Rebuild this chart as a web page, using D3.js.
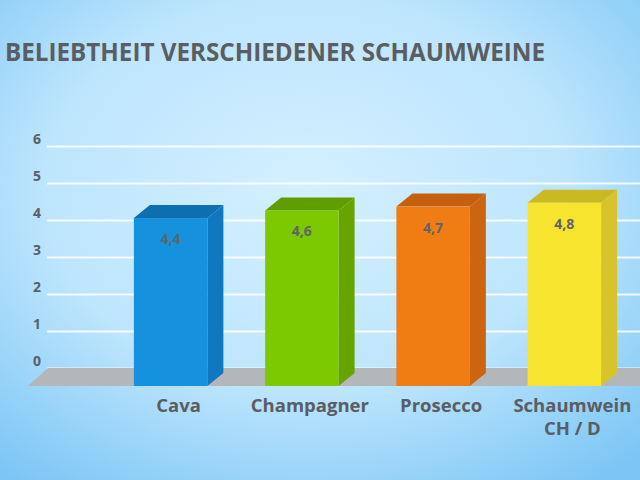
<!DOCTYPE html>
<html>
<head>
<meta charset="utf-8">
<script src="https://cdn.jsdelivr.net/npm/d3@7"></script>
<style>
  body { margin: 0; }
  svg { display: block; }
</style>
</head>
<body>
<div class="grafik"></div>
<script>
var sorten = ['Cava', 'Champagner', 'Prosecco', 'Schaumwein CH / D'];
var werte = [4.4, 4.6, 4.7, 4.8];
var ticks = [0, 1, 2, 3, 4, 5, 6];
var farben = ['#1591de', '#7dc900', '#f07d14', '#f7e42e'];
var seiten = ['#0f78be', '#66a500', '#cd6510', '#d7c42a'];
var deckel = ['#0e6fb0', '#609e00', '#c4600e', '#cbb924'];

var breite = 640, hoehe = 480;
var tiefeX = 16, tiefeY = 13;

var svg = d3.select('.grafik')
  .append('svg')
  .attr('width', breite)
  .attr('height', hoehe);

var defs = svg.append('defs');
var verlauf = defs.append('radialGradient')
  .attr('id', 'hintergrund')
  .attr('cx', '48%').attr('cy', '40%').attr('r', '75%');
verlauf.append('stop').attr('offset', '0%').attr('stop-color', '#d4f0ff');
verlauf.append('stop').attr('offset', '55%').attr('stop-color', '#bde5fd');
verlauf.append('stop').attr('offset', '100%').attr('stop-color', '#7cc6f5');

svg.append('rect')
  .attr('width', breite)
  .attr('height', hoehe)
  .attr('fill', 'url(#hintergrund)');

// Titel
svg.append('text')
  .attr('x', 5)
  .attr('y', 61)
  .attr('font-family', 'Open Sans, sans-serif')
  .attr('font-weight', 700)
  .attr('font-size', 25)
  .attr('textLength', 540)
  .attr('lengthAdjust', 'spacingAndGlyphs')
  .attr('fill', '#5a5d61')
  .text('BELIEBTHEIT VERSCHIEDENER SCHAUMWEINE');

// Skala der Rückwand (Gitter) und Skala der Balken (Vorderkante)
var yGitter = d3.scaleLinear().domain([0, 6]).range([368, 146]);
var yBalken = d3.scaleLinear().domain([0, 6]).range([386, 157]);

var xScale = d3.scaleBand()
  .domain(sorten)
  .range([105, 630])
  .paddingInner(0.44)
  .paddingOuter(0.22);

var yAxis = d3.axisLeft(yGitter)
  .tickValues(ticks)
  .tickSize(-(breite - 47))
  .tickFormat(d3.format('d'));

var achse = svg.append('g')
  .attr('transform', 'translate(47, 0)')
  .call(yAxis);

achse.select('.domain').remove();
achse.selectAll('.tick line')
  .attr('stroke', '#ffffff')
  .attr('stroke-opacity', 0.85)
  .attr('stroke-width', 2);
achse.selectAll('.tick text')
  .attr('x', -6)
  .attr('dy', '-0.15em')
  .attr('font-family', 'Open Sans, sans-serif')
  .attr('font-weight', 700)
  .attr('font-size', 14)
  .attr('fill', '#586068');

// Boden
var bodenVorne = yBalken(0), bodenHinten = yGitter(0);
svg.append('polygon')
  .attr('points', [[28, bodenVorne], [48, bodenHinten], [breite, bodenHinten], [breite, bodenVorne]].join(' '))
  .attr('fill', '#b4b7ba');

// Balken
var balken = svg.selectAll('.balken')
  .data(werte)
  .enter()
  .append('g')
  .attr('class', 'balken');

balken.append('polygon')
  .attr('points', function (d, i) {
    var x0 = xScale(sorten[i]), x1 = x0 + xScale.bandwidth(), y = yBalken(d);
    return [[x0, y], [x0 + tiefeX, y - tiefeY], [x1 + tiefeX, y - tiefeY], [x1, y]].join(' ');
  })
  .attr('fill', function (d, i) { return deckel[i]; });

balken.append('polygon')
  .attr('points', function (d, i) {
    var x1 = xScale(sorten[i]) + xScale.bandwidth(), y = yBalken(d), y0 = yBalken(0);
    return [[x1, y], [x1 + tiefeX, y - tiefeY], [x1 + tiefeX, y0 - tiefeY], [x1, y0]].join(' ');
  })
  .attr('fill', function (d, i) { return seiten[i]; });

balken.append('rect')
  .attr('x', function (d, i) { return xScale(sorten[i]); })
  .attr('y', function (d) { return yBalken(d); })
  .attr('width', xScale.bandwidth())
  .attr('height', function (d) { return yBalken(0) - yBalken(d); })
  .attr('fill', function (d, i) { return farben[i]; });

var deutsch = d3.formatLocale({ decimal: ',', thousands: '.', grouping: [3], currency: ['', ' €'] });
var zahl = deutsch.format('.1f');

balken.append('text')
  .attr('x', function (d, i) { return xScale(sorten[i]) + xScale.bandwidth() / 2; })
  .attr('y', function (d) { return yBalken(d) + 26; })
  .attr('text-anchor', 'middle')
  .attr('font-family', 'Open Sans, sans-serif')
  .attr('font-weight', 700)
  .attr('font-size', 14)
  .attr('fill', '#5d646a')
  .text(function (d) { return zahl(d); });

// Beschriftung, zweizeilig wo nötig
var zeilen = function (d) {
  return d === 'Schaumwein CH / D' ? ['Schaumwein', 'CH / D'] : [d];
};

svg.selectAll('.sorte')
  .data(sorten)
  .enter()
  .append('g')
  .attr('class', 'sorte')
  .each(function (d) {
    var g = d3.select(this);
    zeilen(d).forEach(function (t, k) {
      g.append('text')
        .attr('x', xScale(d) + xScale.bandwidth() / 2 + tiefeX / 2)
        .attr('y', 412 + k * 23)
        .attr('text-anchor', 'middle')
        .attr('font-family', 'Open Sans, sans-serif')
        .attr('font-weight', 700)
        .attr('font-size', 18.5)
        .attr('fill', '#5a5d61')
        .text(t);
    });
  });
</script>
</body>
</html>
